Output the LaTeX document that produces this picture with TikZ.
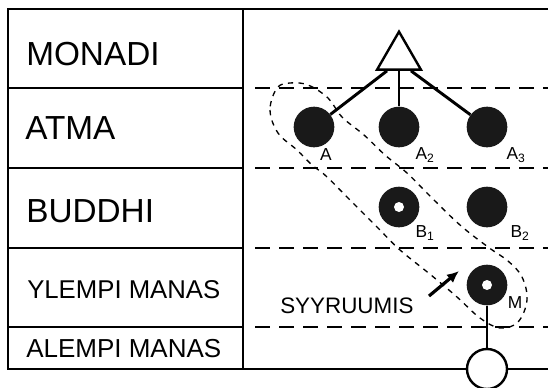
\documentclass[tikz,border=0pt]{standalone}
\usepackage{fontspec}
\setmainfont{Liberation Sans}
\usetikzlibrary{shapes.geometric,calc,arrows.meta}

\tikzset{
  soul/.style={circle,fill=black!90,inner sep=0pt,minimum size=30.5pt},
  ring/.style={soul,path picture={\fill[white] (path picture bounding box.center) circle (3.75pt);}},
  planeline/.style={line width=1.4pt,dash pattern=on 11pt off 7pt},
  rowtext/.style={anchor=base west,inner sep=0pt},
  tag/.style={font=\fontsize{13}{14}\selectfont,inner sep=0.75pt},
}

\begin{document}
\begin{tikzpicture}[x=0.75pt,y=0.75pt,yscale=-1,xscale=1]
\useasboundingbox (0,0) rectangle (548,387);

%Shape: Frame
\draw[line width=2pt] (548,9) -- (8,9) -- (8,369) -- (548,369);
\draw[line width=1.8pt] (243,9) -- (243,369);
%Rows and planes
\foreach \y in {88,168,248,327} {
  \draw[line width=1.5pt] (8,\y) -- (243,\y);
  \draw[planeline] (255,\y) -- (548,\y);
}

% Text Node
\node[rowtext,font=\fontsize{25}{28}\selectfont] (monadi) at (26,65) {MONADI};
% Text Node
\node[rowtext,font=\fontsize{25}{28}\selectfont] (atma) at (25,139) {ATMA};
% Text Node
\node[rowtext,font=\fontsize{25}{28}\selectfont] (buddhi) at (26,222) {BUDDHI};
% Text Node
\node[rowtext,font=\fontsize{19.3}{22}\selectfont] (ylempi) at (27,298) {YLEMPI MANAS};
% Text Node
\node[rowtext,font=\fontsize{19.5}{22}\selectfont] (alempi) at (26,357) {ALEMPI MANAS};

%Curve Lines: path of the soul
\draw[line width=1pt,dash pattern=on 4pt off 4pt] plot[smooth cycle,tension=0.6] coordinates {
  (277,88) (270,110) (278,133) (297,150) (312,165) (326,176) (352,202) (378,228)
  (400,250) (431,275) (457,297) (480,318) (500,328) (518,322) (527,300) (522,277)
  (508,261) (488,247) (460,225) (430,196) (407,173) (385,155) (364,135) (342,117)
  (328,98) (308,85) (290,83)};

%Shape: Triangle
\node[regular polygon,regular polygon sides=3,draw,fill=white,line width=1.8pt,minimum size=38pt,inner sep=0pt] (monad) at (399,57) {};
%Shape: Circles
\node[soul] (A1) at (314,127) {};
\node[soul] (A2) at (399,127) {};
\node[soul] (A3) at (487,127) {};
\node[ring] (B1) at (399,207) {};
\node[soul] (B2) at (487,207) {};
\node[ring] (M) at (487,285) {};
\node[circle,draw,fill=white,line width=1.8pt,minimum size=30pt] (lower) at (487,369) {};

%Straight Lines
\draw[line width=2.2pt] ($(monad.corner 2)!0.25!(monad.corner 3)$) -- (A1);
\draw[line width=2.2pt] (monad.side 2) -- (A2);
\draw[line width=2.2pt] ($(monad.corner 2)!0.75!(monad.corner 3)$) -- (A3);
\draw[line width=2pt] (M) -- (lower);

% Text Node
\node[tag] (labA1) at (326,155) {A};
\node[tag] (labA2) at (425,155) {A\textsubscript{2}};
\node[tag] (labA3) at (516,155) {A\textsubscript{3}};
\node[tag] (labB1) at (425,233) {B\textsubscript{1}};
\node[tag] (labB2) at (520,233) {B\textsubscript{2}};
\node[tag] (labM) at (515,303) {M};

% Text Node
\node[anchor=base west,inner sep=0pt,font=\fontsize{16.8}{18}\selectfont] (syy) at (280,313) {SYYRUUMIS};
%Arrow
\coordinate (tail) at (429,296);
\coordinate (head) at (459,271);
\draw[line width=2.4pt,-{Latex[length=9pt,width=8pt]}] (tail) -- (head);
\end{tikzpicture}
\end{document}
